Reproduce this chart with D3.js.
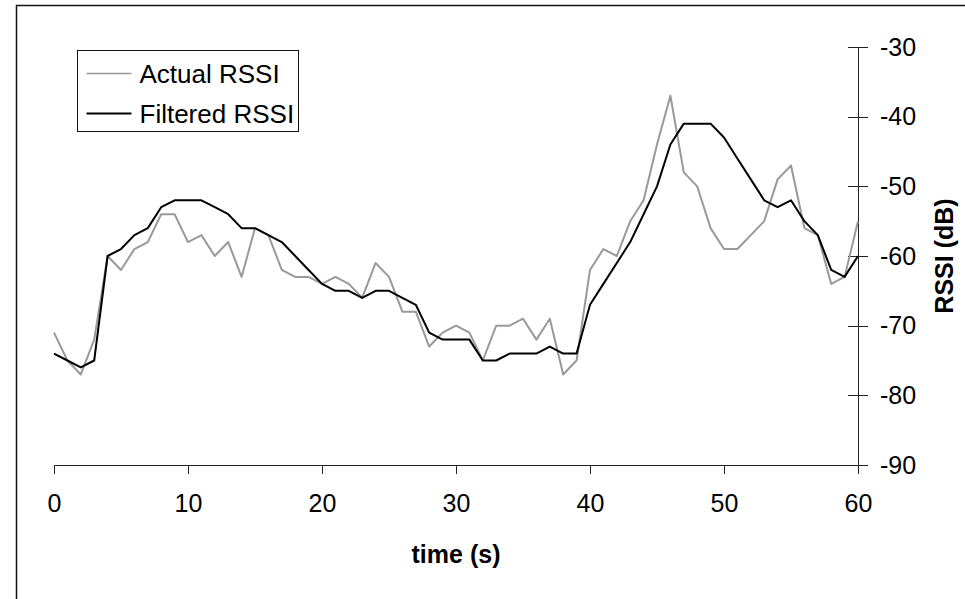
<!DOCTYPE html>
<meta charset="utf-8">
<style>

body {
  margin: 0;
  background-color: white;
  font-family: "Liberation Sans", Arial, sans-serif;
}

path.line {
  fill: none;
  stroke-width: 2px;
  stroke-linejoin: round;
}

.axis path, .axis line {
  stroke: #222;
  stroke-width: 1px;
  shape-rendering: crispEdges;
}

.axis text {
  font-family: "Liberation Sans", Arial, sans-serif;
  font-size: 25px;
  fill: black;
}

</style>
<body>
<div id="chart"></div>
<script src="https://cdnjs.cloudflare.com/ajax/libs/d3/7.8.5/d3.min.js"></script>
<script>

// time in seconds
var time = [0, 1, 2, 3, 4, 5, 6, 7, 8, 9, 10, 11, 12, 13, 14, 15, 16, 17, 18, 19, 20,
    21, 22, 23, 24, 25, 26, 27, 28, 29, 30, 31, 32, 33, 34, 35, 36, 37, 38, 39, 40,
    41, 42, 43, 44, 45, 46, 47, 48, 49, 50, 51, 52, 53, 54, 55, 56, 57, 58, 59, 60];

var actualRssi = [-71, -75, -77, -72, -60, -62, -59, -58, -54, -54, -58, -57, -60, -58, -63, -56,
    -57, -62, -63, -63, -64, -63, -64, -66, -61, -63, -68, -68, -73, -71, -70, -71, -75, -70,
    -70, -69, -72, -69, -77, -75, -62, -59, -60, -55, -52, -44, -37, -48, -50, -56, -59, -59,
    -57, -55, -49, -47, -56, -57, -64, -63, -55];

var filteredRssi = [-74, -75, -76, -75, -60, -59, -57, -56, -53, -52, -52, -52, -53, -54, -56, -56,
    -57, -58, -60, -62, -64, -65, -65, -66, -65, -65, -66, -67, -71, -72, -72, -72, -75, -75,
    -74, -74, -74, -73, -74, -74, -67, -64, -61, -58, -54, -50, -44, -41, -41, -41, -43, -46,
    -49, -52, -53, -52, -55, -57, -62, -63, -60];

var xTicks = [0, 10, 20, 30, 40, 50, 60];
var yTicks = [-90, -80, -70, -60, -50, -40, -30];

var seriesNames = ["Actual RSSI", "Filtered RSSI"];
var seriesColors = ["#999999", "#000000"];

var width = 965,
    height = 599;

var svg = d3.select("#chart")
    .append("svg")
    .attr("width", width)
    .attr("height", height);

svg.append("rect")
    .attr("width", width)
    .attr("height", height)
    .attr("fill", "white");

// outer chart frame (runs off the right and bottom)
svg.append("rect")
    .attr("x", 16.5)
    .attr("y", 5.5)
    .attr("width", width)
    .attr("height", height)
    .attr("fill", "none")
    .attr("stroke", "#111")
    .attr("stroke-width", 1.5);

var x = d3.scaleLinear()
    .domain([0, 60])
    .range([54, 858]);

var y = d3.scaleLinear()
    .domain([-90, -30])
    .range([465, 47]);

// plain hyphen for negatives, like the original
var fmt = function(d) { return String(d); };

// x axis
var xAxis = svg.append("g")
    .attr("class", "axis")
    .attr("transform", "translate(0," + y(-90) + ")")
    .call(d3.axisBottom(x).tickValues(xTicks).tickFormat(fmt).tickSize(9).tickSizeOuter(0).tickPadding(14));

xAxis.selectAll("text").attr("dy", "0.95em");

// y axis on the right, ticks crossing the line
var yAxis = svg.append("g")
    .attr("class", "axis")
    .attr("transform", "translate(" + x(60) + ",0)")
    .call(d3.axisRight(y).tickValues(yTicks).tickFormat(fmt).tickSize(10).tickSizeOuter(0).tickPadding(12));

yAxis.selectAll(".tick line").attr("x1", -10).attr("x2", 10);

svg.append("text")
    .attr("x", x(30))
    .attr("y", 563)
    .attr("text-anchor", "middle")
    .style("font-size", "25px")
    .style("font-weight", "bold")
    .text("time (s)");

svg.append("text")
    .attr("transform", "translate(953," + y(-60) + ") rotate(-90)")
    .attr("text-anchor", "middle")
    .style("font-size", "25px")
    .style("font-weight", "bold")
    .text("RSSI (dB)");

var line = d3.line()
    .x(function(d) { return x(d[0]); })
    .y(function(d) { return y(d[1]); });

var series = [actualRssi, filteredRssi];

svg.selectAll("path.line")
    .data(series)
    .enter()
    .append("path")
    .attr("class", "line")
    .attr("stroke", function(d, i) { return seriesColors[i]; })
    .attr("d", function(d) {
        return line(time.map(function(t, j) { return [t, d[j]]; }));
    });

// legend
var legend = svg.append("g")
    .attr("transform", "translate(77.5,50.5)");

legend.append("rect")
    .attr("width", 221)
    .attr("height", 81)
    .attr("fill", "white")
    .attr("stroke", "#111")
    .attr("stroke-width", 1);

var item = legend.selectAll("g.item")
    .data(seriesNames)
    .enter()
    .append("g")
    .attr("class", "item")
    .attr("transform", function(d, i) { return "translate(0," + (23 + i * 40) + ")"; });

item.append("line")
    .attr("x1", 9)
    .attr("x2", 54)
    .attr("stroke", function(d, i) { return seriesColors[i]; })
    .attr("stroke-width", function(d, i) { return i == 0 ? 1.5 : 2; });

item.append("text")
    .attr("x", 62)
    .attr("dy", "0.35em")
    .style("font-size", "26px")
    .text(function(d) { return d; });

</script>
</body>
